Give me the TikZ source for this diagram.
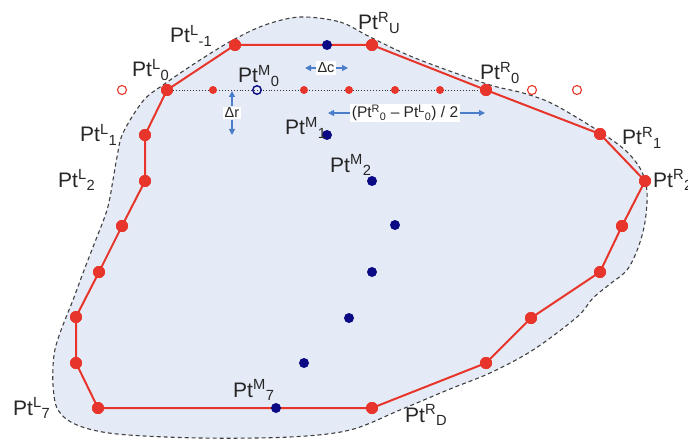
\documentclass[tikz,border=0pt]{standalone}
\usepackage{fontspec}
\setmainfont{Liberation Sans}
\usetikzlibrary{arrows.meta}
\definecolor{blobfill}{HTML}{E5EBF6}
\definecolor{redpt}{HTML}{E8352B}
\definecolor{navydot}{HTML}{0A0A84}
\definecolor{arrblue}{HTML}{4A7EC9}
\newcommand{\Ptl}[2]{Pt\textsuperscript{#1}\textsubscript{#2}}
\begin{document}
\begin{tikzpicture}[x=1pt,y=-1pt,
  bigdot/.style={circle,fill=redpt,inner sep=0,minimum size=12pt},
  smalldot/.style={circle,fill=redpt,inner sep=0,minimum size=8pt},
  opendot/.style={circle,draw=redpt,line width=1.1pt,inner sep=0,minimum size=9pt},
  mdot/.style={circle,fill=navydot,inner sep=0,minimum size=10pt},
  mopen/.style={circle,draw=navydot,line width=1.4pt,inner sep=0,minimum size=8.5pt},
  ptlabel/.style={anchor=base west,inner sep=0,text=black!85,font=\fontsize{21}{25}\selectfont},
  redline/.style={draw=redpt,line width=2pt,line join=round},
  arr/.style={draw=arrblue,line width=1.2pt,-{Triangle[length=6pt,width=6pt]}},
  dlabel/.style={fill=white,inner sep=1.5pt,text=black!85,font=\fontsize{14.5}{17}\selectfont}]
\useasboundingbox (0,0) rectangle (688,441);

% outline blob
\draw[fill=blobfill,draw=black!75,line width=1.1pt,dash pattern=on 4pt off 3pt]
  plot[smooth cycle,tension=0.55] coordinates {
  (300,17) (340,22) (370,37) (415,58) (487,84) (523,93) (553,104) (597,130)
  (625,150) (641,170) (647,192) (645,222) (638,248) (627,270) (610,284) (593,298)
  (577,317) (533,350) (490,373) (450,389) (400,410) (350,430) (290,437) (200,438)
  (117,434) (77,425) (58,410) (53,385) (54,355) (60,333) (73,300) (83,273)
  (93,247) (107,210) (113,180) (117,157) (123,133) (143,101) (163,85) (200,60)
  (233,40) (265,25)};

% red polygon vertices
\node[bigdot] (Lm1) at (235,45) {};
\node[bigdot] (RU) at (372,45) {};
\node[bigdot] (R0) at (486,90) {};
\node[bigdot] (R1) at (600,134) {};
\node[bigdot] (R2) at (645,181) {};
\node[bigdot] (R3) at (622,226) {};
\node[bigdot] (R4) at (600,272) {};
\node[bigdot] (R5) at (531,318) {};
\node[bigdot] (R6) at (486,363) {};
\node[bigdot] (RD) at (372,408) {};
\node[bigdot] (L7) at (98,408) {};
\node[bigdot] (L6) at (76,363) {};
\node[bigdot] (L5) at (76,317) {};
\node[bigdot] (L4) at (99,272) {};
\node[bigdot] (L3) at (122,226) {};
\node[bigdot] (L2) at (145,181) {};
\node[bigdot] (L1) at (145,135) {};
\node[bigdot] (L0) at (167,90) {};

% dotted line row 0
\draw[dotted,line width=0.9pt,black!80] (L0.center) -- (R0.center);

\draw[redline] (Lm1.center) -- (RU.center) -- (R0.center) -- (R1.center) -- (R2.center)
  -- (R3.center) -- (R4.center) -- (R5.center) -- (R6.center) -- (RD.center)
  -- (L7.center) -- (L6.center) -- (L5.center) -- (L4.center) -- (L3.center)
  -- (L2.center) -- (L1.center) -- (L0.center) -- cycle;

% redraw big dots on top
\foreach \n in {Lm1,RU,R0,R1,R2,R3,R4,R5,R6,RD,L7,L6,L5,L4,L3,L2,L1,L0}
  \fill[redpt] (\n.center) circle (6pt);

% small dots on row 0
\node[smalldot] (s1) at (213,90) {};
\node[smalldot] (s2) at (304,90) {};
\node[smalldot] (s3) at (349,90) {};
\node[smalldot] (s4) at (395,90) {};
\node[smalldot] (s5) at (440,90) {};
\node[opendot] (o1) at (122,90) {};
\node[opendot] (o2) at (532,90) {};
\node[opendot] (o3) at (577,90) {};

% middle points
\node[mopen] (M0) at (257,90) {};
\node[mdot] (MU) at (327,45) {};
\node[mdot] (M1) at (327,135) {};
\node[mdot] (M2) at (372,181) {};
\node[mdot] (M3) at (395,225) {};
\node[mdot] (M4) at (372,272) {};
\node[mdot] (M5) at (349,318) {};
\node[mdot] (M6) at (304,363) {};
\node[mdot] (M7) at (276,408) {};

% labels
\node[ptlabel] (tLm1) at (170,43) {\Ptl{L}{-1}};
\node[ptlabel] (tRU) at (358,30) {\Ptl{R}{U}};
\node[ptlabel] (tL0) at (132,77) {\Ptl{L}{0}};
\node[ptlabel] (tM0) at (238,83) {\Ptl{M}{0}};
\node[ptlabel] (tM1) at (285,135) {\Ptl{M}{1}};
\node[ptlabel] (tR0) at (480,80) {\Ptl{R}{0}};
\node[ptlabel] (tR1) at (622,145) {\Ptl{R}{1}};
\node[ptlabel] (tR2) at (653,187) {\Ptl{R}{2}};
\node[ptlabel] (tL1) at (80,142) {\Ptl{L}{1}};
\node[ptlabel] (tL2) at (58,187) {\Ptl{L}{2}};
\node[ptlabel] (tM2) at (330,172) {\Ptl{M}{2}};
\node[ptlabel] (tL7) at (13,415) {\Ptl{L}{7}};
\node[ptlabel] (tM7) at (233,397) {\Ptl{M}{7}};
\node[ptlabel] (tRD) at (405,422) {\Ptl{R}{D}};

% delta c
\coordinate (dcl) at (305,68);
\coordinate (dcr) at (348,68);
\node[dlabel] (dc) at (326,68) {Δc};
\draw[arr] (dc.west) -- (dcl);
\draw[arr] (dc.east) -- (dcr);

% delta r
\coordinate (drt) at (232,91);
\coordinate (drb) at (232,135);
\node[dlabel] (dr) at (232,113) {Δr};
\draw[arr] (dr.north) -- (drt);
\draw[arr] (dr.south) -- (drb);

% half width
\coordinate (hl) at (328,113);
\coordinate (hr) at (485,113);
\node[dlabel,font=\fontsize{15.5}{18}\selectfont] (half) at (405,113)
  {(Pt\textsuperscript{R}\textsubscript{0} – Pt\textsuperscript{L}\textsubscript{0}) / 2};
\draw[arr] (half.west) -- (hl);
\draw[arr] (half.east) -- (hr);
\end{tikzpicture}
\end{document}
